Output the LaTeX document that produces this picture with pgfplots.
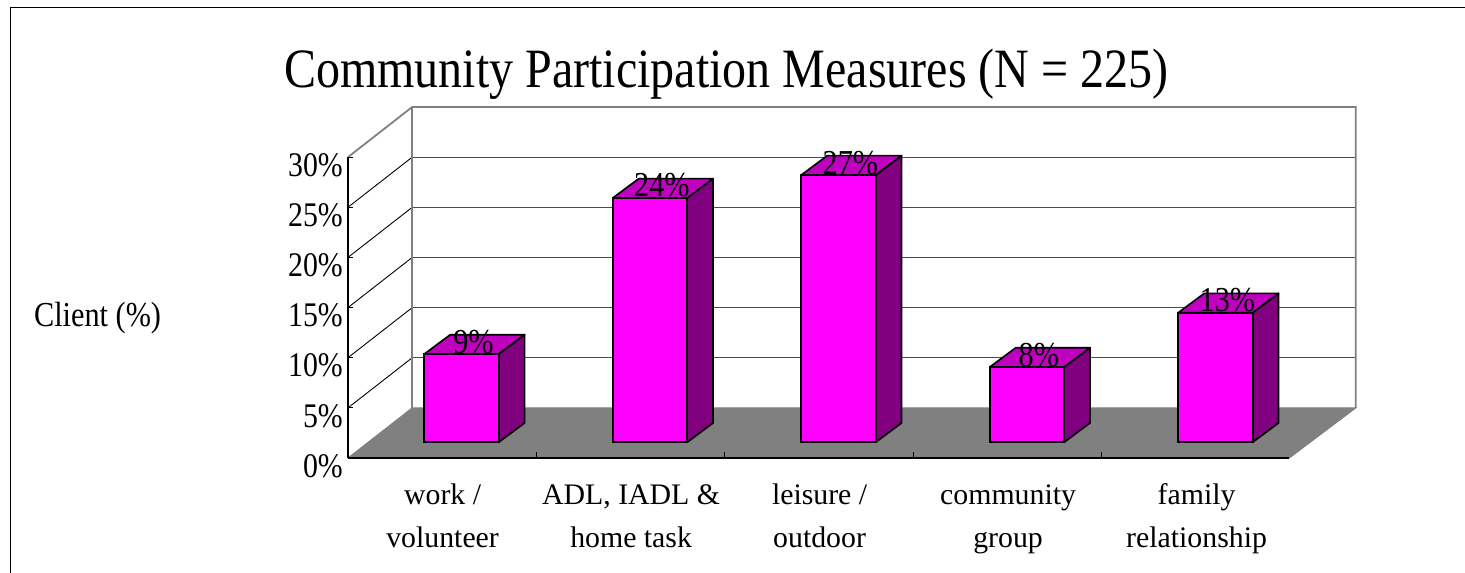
\documentclass[border=0pt]{standalone}
\usepackage{fontspec}
\setmainfont{Liberation Serif}
\newfontfamily\cond[FakeStretch=0.865]{Liberation Serif}
\usepackage{pgfplots}
\pgfplotsset{compat=1.18}
\definecolor{barfront}{HTML}{FF00FF}
\definecolor{bartop}{HTML}{BF00BF}
\definecolor{barside}{HTML}{800080}
\definecolor{floorgray}{HTML}{808080}
\begin{document}
\begin{tikzpicture}
\useasboundingbox (-348pt,-115pt) rectangle (1117pt,458pt);
\begin{axis}[
  at={(0pt,0pt)}, anchor=south west,
  scale only axis, width=941.3pt, height=300.9pt,
  xmin=-0.602, xmax=4.392, ymin=-1.565, ymax=28.435,
  clip=false, axis on top,
  axis x line*=bottom, axis y line*=left,
  axis line style={-, line width=1.7pt, black},
  tick align=inside,
  xtick={-0.1,0.9,1.9,2.9,3.9},
  xticklabels={{\strut work /\\volunteer},{\strut ADL, IADL \&\\home task},{\strut leisure /\\outdoor},{\strut community\\group},{\strut family\\relationship}},
  major x tick style={draw=none},
  minor xtick={0.398,1.397,2.396,3.394},
  minor tick length=6pt,
  minor x tick style={black, line width=1pt},
  ytick={-1.565,3.435,8.435,13.435,18.435,23.435,28.435},
  yticklabels={0\%,5\%,10\%,15\%,20\%,25\%,30\%},
  major tick length=5pt,
  major y tick style={black, line width=1pt},
  xticklabel style={font=\fontsize{29.8}{43}\selectfont, align=center, anchor=north, inner sep=0pt, yshift=-16pt},
  yticklabel style={font=\cond\fontsize{34.5}{36}\selectfont, anchor=east, inner sep=0pt, xshift=-5pt, yshift=-8pt},
  title={Community Participation Measures (N = 225)},
  title style={font=\cond\fontsize{55.5}{60}\selectfont, at={(axis description cs:0.402,1.21)}, anchor=base, inner sep=0pt},
  ylabel={Client (\%)},
  every axis y label/.style={at={(axis description cs:-0.266,0.4385)}, anchor=base, inner sep=0pt, font=\cond\fontsize{35}{38}\selectfont},
]
% floor
\addplot[fill=floorgray, draw=floorgray, line width=1pt] coordinates {(-0.602,-1.565) (-0.261,3.435) (4.745,3.435) (4.392,-1.565) (-0.602,-1.565)};
% side-wall grid lines
\addplot[black, line width=0.9pt] coordinates {(-0.602,3.435) (-0.261,8.435)};
\addplot[black, line width=0.9pt] coordinates {(-0.602,8.435) (-0.261,13.435)};
\addplot[black, line width=0.9pt] coordinates {(-0.602,13.435) (-0.261,18.435)};
\addplot[black, line width=0.9pt] coordinates {(-0.602,18.435) (-0.261,23.435)};
\addplot[black, line width=0.9pt] coordinates {(-0.602,23.435) (-0.261,28.435)};
% back-wall grid lines
\addplot[black!70, line width=1.2pt] coordinates {(-0.261,8.435) (4.745,8.435)};
\addplot[black!70, line width=1.2pt] coordinates {(-0.261,13.435) (4.745,13.435)};
\addplot[black!70, line width=1.2pt] coordinates {(-0.261,18.435) (4.745,18.435)};
\addplot[black!70, line width=1.2pt] coordinates {(-0.261,23.435) (4.745,23.435)};
\addplot[black!70, line width=1.2pt] coordinates {(-0.261,28.435) (4.745,28.435)};
% wall outline
\addplot[floorgray, line width=1.8pt] coordinates {(-0.602,28.435) (-0.261,33.435) (4.745,33.435) (4.745,3.435)};
\addplot[floorgray, line width=1.8pt] coordinates {(-0.261,33.435) (-0.261,3.435)};
% bar sides
\addplot[fill=barside, draw=black, line width=1.7pt, line join=round] coordinates {(0.197,0) (0.335,1.93) (0.335,10.73) (0.197,8.8) (0.197,0)};
\addplot[fill=barside, draw=black, line width=1.7pt, line join=round] coordinates {(1.197,0) (1.335,1.93) (1.335,26.29) (1.197,24.36) (1.197,0)};
\addplot[fill=barside, draw=black, line width=1.7pt, line join=round] coordinates {(2.197,0) (2.335,1.93) (2.335,28.58) (2.197,26.65) (2.197,0)};
\addplot[fill=barside, draw=black, line width=1.7pt, line join=round] coordinates {(3.197,0) (3.335,1.93) (3.335,9.43) (3.197,7.5) (3.197,0)};
\addplot[fill=barside, draw=black, line width=1.7pt, line join=round] coordinates {(4.197,0) (4.335,1.93) (4.335,14.85) (4.197,12.92) (4.197,0)};
% bar tops
\addplot[fill=bartop, draw=black, line width=1.7pt, line join=round] coordinates {(-0.197,8.8) (-0.059,10.73) (0.335,10.73) (0.197,8.8) (-0.197,8.8)};
\addplot[fill=bartop, draw=black, line width=1.7pt, line join=round] coordinates {(0.803,24.36) (0.941,26.29) (1.335,26.29) (1.197,24.36) (0.803,24.36)};
\addplot[fill=bartop, draw=black, line width=1.7pt, line join=round] coordinates {(1.803,26.65) (1.941,28.58) (2.335,28.58) (2.197,26.65) (1.803,26.65)};
\addplot[fill=bartop, draw=black, line width=1.7pt, line join=round] coordinates {(2.803,7.5) (2.941,9.43) (3.335,9.43) (3.197,7.5) (2.803,7.5)};
\addplot[fill=bartop, draw=black, line width=1.7pt, line join=round] coordinates {(3.803,12.92) (3.941,14.85) (4.335,14.85) (4.197,12.92) (3.803,12.92)};
% bar fronts with labels
\addplot[ybar, bar shift=0pt, bar width=74.5pt, fill=barfront, draw=black, line width=1.7pt,
  point meta=explicit symbolic, nodes near coords,
  nodes near coords style={font=\cond\fontsize{35}{38}\selectfont, anchor=base, inner sep=0pt, xshift=12pt, yshift=1pt, text=black}]
  coordinates {(0,8.8)[9\%] (1,24.36)[24\%] (2,26.65)[27\%] (3,7.5)[8\%] (4,12.92)[13\%]};
\end{axis}
\draw[black, line width=1.7pt] (-337.5pt,-115pt) -- (-337.5pt,450.5pt) -- (1117pt,450.5pt);
\end{tikzpicture}
\end{document}
